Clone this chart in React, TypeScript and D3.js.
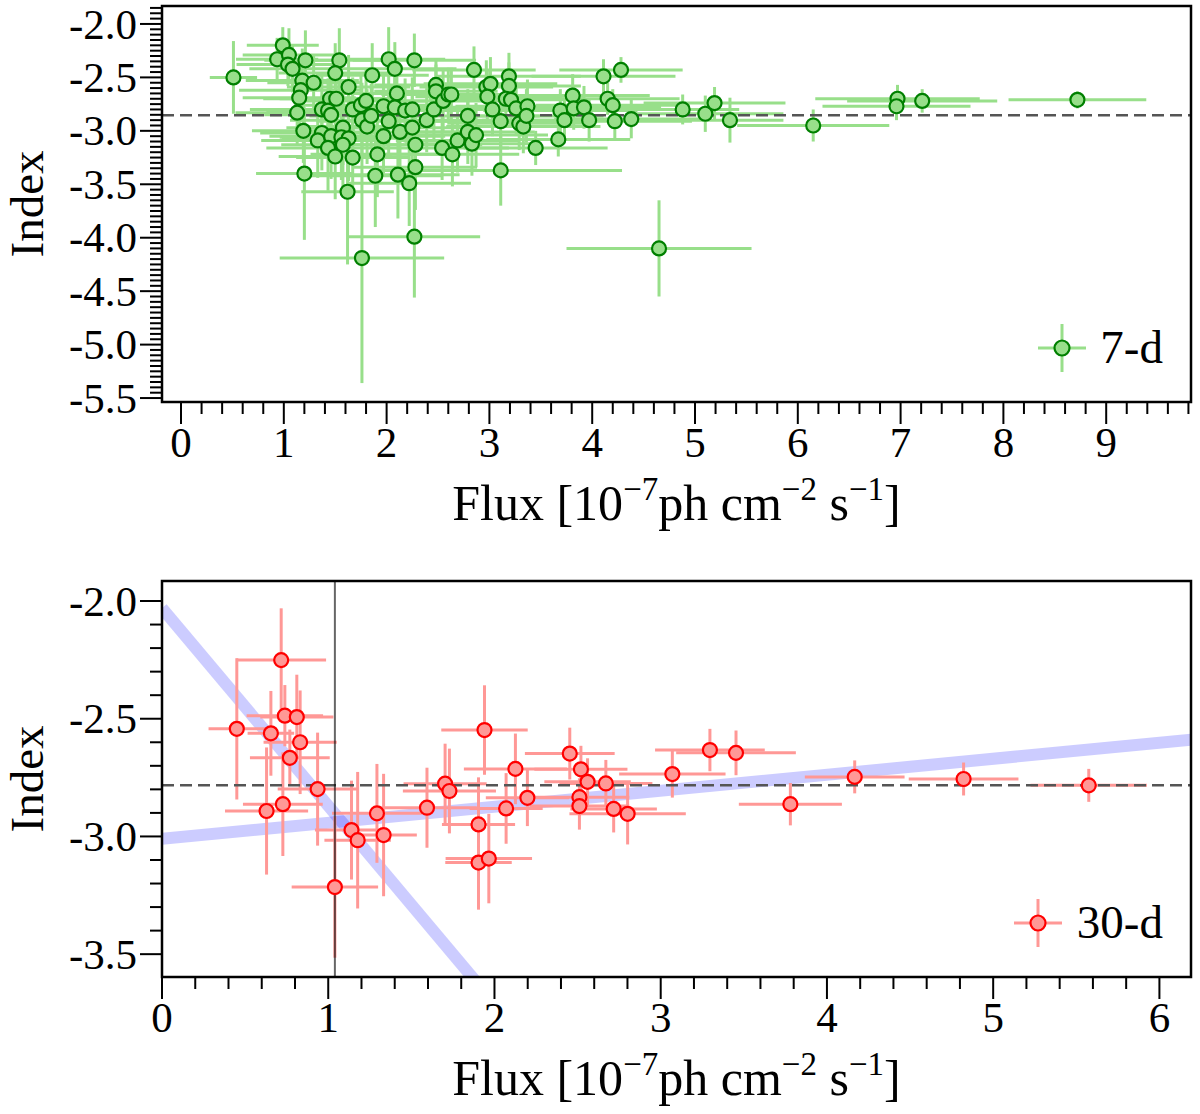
import React from "react";
import * as d3 from "d3";

// ---------- 7-day binned data ----------
const flux7 = [
  0.51, 0.99, 0.935, 1.05, 1.04, 1.085, 1.21, 1.18, 1.29, 1.165,
  1.15, 1.13, 1.19, 1.2, 1.54, 1.5, 1.63, 1.45, 1.51, 1.37,
  1.43, 1.46, 1.37, 1.33, 1.46, 1.575, 1.56, 1.63, 1.575, 1.43,
  1.5, 1.67, 1.62, 1.67, 1.75, 1.8, 1.76, 1.81, 1.85, 1.86,
  1.97, 2.02, 1.97, 1.91, 1.89, 2.02, 2.08, 2.1, 2.08, 2.18,
  2.25, 2.13, 2.25, 2.28, 2.28, 2.11, 2.22, 2.27, 2.39, 2.46,
  2.48, 2.48, 2.55, 2.6, 2.63, 2.54, 2.64, 2.69, 2.79, 2.79,
  2.83, 2.87, 2.85, 2.97, 3.01, 2.98, 3.03, 3.11, 3.11, 3.19,
  3.19, 3.16, 3.21, 3.26, 3.29, 3.33, 3.37, 3.36, 3.45, 3.67,
  3.69, 3.73, 3.81, 3.82, 3.92, 3.97, 4.11, 4.28, 4.15, 4.2,
  4.22, 4.38, 4.65, 4.88, 5.1, 5.19, 5.34, 6.15, 6.97, 6.96,
  7.21, 8.72, 1.76, 2.27,
];
const index7 = [
  -2.5, -2.2, -2.33, -2.29, -2.38, -2.42, -2.34, -2.53, -2.55, -2.62,
  -2.69, -2.83, -3.0, -3.4, -2.34, -2.46, -2.59, -2.7, -2.7, -2.8,
  -2.81, -2.85, -3.02, -3.09, -3.05, -2.97, -3.06, -3.07, -3.13, -3.16,
  -3.24, -3.25, -3.57, -2.8, -2.76, -2.72, -2.9, -2.96, -2.86, -2.48,
  -2.77, -2.91, -3.05, -3.22, -3.42, -2.33, -2.42, -2.65, -2.78, -2.81,
  -2.8, -3.01, -2.97, -3.13, -3.34, -3.41, -3.49, -2.34, -2.9, -2.8,
  -2.57, -2.63, -2.72, -2.66, -2.66, -3.16, -3.22, -3.09, -2.86, -3.01,
  -3.12, -3.04, -2.43, -2.59, -2.56, -2.68, -2.8, -2.91, -3.37, -2.49,
  -2.58, -2.7, -2.71, -2.79, -2.93, -2.96, -2.77, -2.86, -3.16, -3.08,
  -2.81, -2.9, -2.67, -2.79, -2.78, -2.9, -2.49, -2.43, -2.7, -2.76,
  -2.91, -2.89, -4.1, -2.8, -2.84, -2.74, -2.9, -2.95, -2.7, -2.77,
  -2.72, -2.71, -4.19, -3.99,
];
const fluxErr7 = [
  0.23, 0.35, 0.4, 0.45, 0.5, 0.42, 0.4, 0.55, 0.45, 0.6,
  0.55, 0.6, 0.5, 0.47, 0.5, 0.55, 0.6, 0.65, 0.55, 0.7,
  0.6, 0.65, 0.6, 0.55, 0.6, 0.55, 0.6, 0.65, 0.6, 0.6,
  0.55, 0.55, 0.45, 0.6, 0.65, 0.6, 0.7, 0.65, 0.6, 0.55,
  0.65, 0.7, 0.6, 0.65, 0.65, 0.55, 0.6, 0.6, 0.65, 0.7,
  0.65, 0.6, 0.65, 0.65, 0.6, 0.6, 0.6, 0.6, 0.7, 0.65,
  0.6, 0.6, 0.65, 0.65, 0.6, 0.65, 0.65, 0.6, 0.7, 0.65,
  0.65, 0.7, 0.6, 0.65, 0.65, 0.7, 0.7, 0.7, 1.18, 0.7,
  0.7, 0.75, 0.7, 0.75, 0.7, 0.75, 0.7, 0.75, 0.7, 0.7,
  0.75, 0.8, 0.75, 0.8, 0.75, 0.8, 0.7, 0.6, 0.7, 0.75,
  0.75, 0.75, 0.9, 0.55, 0.76, 0.69, 0.52, 0.74, 0.8, 0.72,
  0.73, 0.67, 0.8, 0.64,
];
const indexErr7 = [
  0.34, 0.17, 0.2, 0.25, 0.2, 0.22, 0.28, 0.3, 0.25, 0.3,
  0.25, 0.3, 0.3, 0.62, 0.3, 0.28, 0.3, 0.25, 0.3, 0.35,
  0.3, 0.3, 0.35, 0.35, 0.4, 0.35, 0.4, 0.4, 0.4, 0.4,
  0.4, 0.35, 0.68, 0.3, 0.3, 0.3, 0.35, 0.35, 0.3, 0.3,
  0.3, 0.35, 0.35, 0.4, 0.48, 0.3, 0.25, 0.3, 0.3, 0.3,
  0.3, 0.35, 0.35, 0.35, 0.4, 0.41, 0.4, 0.25, 0.3, 0.3,
  0.25, 0.25, 0.3, 0.25, 0.25, 0.3, 0.3, 0.3, 0.25, 0.3,
  0.3, 0.3, 0.22, 0.25, 0.25, 0.25, 0.25, 0.25, 0.33, 0.22,
  0.22, 0.25, 0.25, 0.25, 0.25, 0.25, 0.25, 0.25, 0.16, 0.16,
  0.2, 0.2, 0.2, 0.2, 0.2, 0.2, 0.16, 0.12, 0.15, 0.15,
  0.18, 0.18, 0.45, 0.14, 0.17, 0.15, 0.21, 0.15, 0.13, 0.13,
  0.11, 0.08, 1.17, 0.57,
];

// ---------- 30-day binned data ----------
const flux30 = [
  0.45, 0.717, 0.655, 0.739, 0.811, 0.831, 0.769, 0.936, 0.727, 0.629,
  1.04, 1.14, 1.177, 1.293, 1.333, 1.594, 1.703, 1.729, 1.904, 1.94,
  1.904, 1.966, 2.07, 2.126, 2.198, 2.453, 2.52, 2.56, 2.511, 2.511,
  2.67, 2.717, 2.801, 3.07, 3.296, 3.453, 3.78, 4.167, 4.822, 5.575,
];
const index30 = [
  -2.543, -2.251, -2.562, -2.487, -2.493, -2.6, -2.666, -2.799, -2.863, -2.892,
  -3.215, -2.973, -3.016, -2.902, -2.994, -2.878, -2.776, -2.807, -2.949, -2.548,
  -3.111, -3.094, -2.881, -2.713, -2.836, -2.648, -2.715, -2.768, -2.833, -2.871,
  -2.775, -2.883, -2.904, -2.735, -2.633, -2.645, -2.863, -2.747, -2.756, -2.783,
];
const fluxErr30 = [
  0.17, 0.27, 0.14, 0.23, 0.22, 0.22, 0.24, 0.24, 0.24, 0.25,
  0.26, 0.22, 0.2, 0.27, 0.2, 0.3, 0.25, 0.28, 0.22, 0.26,
  0.2, 0.26, 0.22, 0.31, 0.25, 0.27, 0.28, 0.26, 0.3, 0.3,
  0.28, 0.26, 0.35, 0.32, 0.33, 0.36, 0.31, 0.3, 0.33, 0.35,
];
const indexErr30 = [
  0.3, 0.22, 0.18, 0.13, 0.18, 0.22, 0.12, 0.24, 0.22, 0.27,
  0.3, 0.21, 0.29, 0.21, 0.26, 0.17, 0.17, 0.18, 0.2, 0.19,
  0.2, 0.19, 0.15, 0.15, 0.12, 0.11, 0.1, 0.1, 0.08, 0.1,
  0.1, 0.1, 0.13, 0.1, 0.09, 0.095, 0.09, 0.07, 0.07, 0.07,
];

// reference lines
const mean7 = -2.855;
const mean30 = -2.783;
const breakFlux30 = 1.04;
const fitIntercepts30 = [-2.03, -3.01];
const fitSlopes30 = [-0.84, 0.068];

// tick labels
const xTicks7 = [0, 1, 2, 3, 4, 5, 6, 7, 8, 9];
const yTicks7 = [-2.0, -2.5, -3.0, -3.5, -4.0, -4.5, -5.0, -5.5];
const xTicks30 = [0, 1, 2, 3, 4, 5, 6];
const yTicks30 = [-2.0, -2.5, -3.0, -3.5];

const FONT = "'Liberation Serif', 'Times New Roman', 'DejaVu Serif', serif";

type PanelProps = {
  id: string;
  top: number;
  bottom: number;
  left: number;
  right: number;
  xDomain: [number, number];
  yDomain: [number, number];
  xTicks: number[];
  yTicks: number[];
  xMinorStep: number;
  yMinorStep: number;
  flux: number[];
  index: number[];
  fluxErr: number[];
  indexErr: number[];
  barColor: string;
  fillColor: string;
  edgeColor: string;
  mean: number;
  label: string;
  legendMarkerX: number;
  vline?: number;
  fitIntercepts?: number[];
  fitSlopes?: number[];
};

function minorTicks(domain: [number, number], step: number, majors: number[]) {
  const lo = Math.ceil(domain[0] / step - 1e-6);
  const hi = Math.floor(domain[1] / step + 1e-6);
  return d3
    .range(lo, hi + 1)
    .map((i) => +(i * step).toFixed(4))
    .filter((v) => !majors.some((m) => Math.abs(m - v) < 1e-6));
}

function Panel(p: PanelProps) {
  const x = d3.scaleLinear().domain(p.xDomain).range([p.left, p.right]);
  const y = d3.scaleLinear().domain(p.yDomain).range([p.bottom, p.top]);
  const xMinor = minorTicks(p.xDomain, p.xMinorStep, p.xTicks);
  const yMinor = minorTicks(p.yDomain, p.yMinorStep, p.yTicks);
  const MAJ = 22;
  const MIN = 12;
  const r = 7;
  const legendY = p.bottom - 54;
  const fits = (p.fitIntercepts || []).map((a, k) => {
    const b = (p.fitSlopes || [])[k];
    const xs = [p.xDomain[0], p.xDomain[1]];
    return d3
      .line<number>()
      .x((d) => x(d))
      .y((d) => y(a + b * d))(xs);
  });
  const midX = (p.left + p.right) / 2;
  const midY = (p.top + p.bottom) / 2;

  return (
    <g>
      <defs>
        <clipPath id={p.id}>
          <rect x={p.left} y={p.top} width={p.right - p.left} height={p.bottom - p.top} />
        </clipPath>
      </defs>
      <g clipPath={`url(#${p.id})`}>
        {fits.map((d, k) => (
          <path key={k} d={d || ""} stroke="rgb(0,0,255)" strokeOpacity={0.2} strokeWidth={12} fill="none" />
        ))}
        {p.flux.map((f, i) => (
          <g key={i} stroke={p.barColor} strokeWidth={3}>
            <line x1={x(f - p.fluxErr[i])} x2={x(f + p.fluxErr[i])} y1={y(p.index[i])} y2={y(p.index[i])} />
            <line x1={x(f)} x2={x(f)} y1={y(p.index[i] - p.indexErr[i])} y2={y(p.index[i] + p.indexErr[i])} />
          </g>
        ))}
        <line
          x1={p.left}
          x2={p.right}
          y1={y(p.mean)}
          y2={y(p.mean)}
          stroke="#555"
          strokeWidth={2.5}
          strokeDasharray="12,6"
        />
        {p.vline !== undefined && (
          <line x1={x(p.vline)} x2={x(p.vline)} y1={p.top} y2={p.bottom} stroke="#000" strokeOpacity={0.6} strokeWidth={2} />
        )}
        {p.flux.map((f, i) => (
          <circle key={i} cx={x(f)} cy={y(p.index[i])} r={r} fill={p.fillColor} stroke={p.edgeColor} strokeWidth={2.2} />
        ))}
      </g>
      <rect
        x={p.left}
        y={p.top}
        width={p.right - p.left}
        height={p.bottom - p.top}
        fill="none"
        stroke="#000"
        strokeWidth={2.5}
      />
      {p.xTicks.map((t) => (
        <g key={"xt" + t}>
          <line x1={x(t)} x2={x(t)} y1={p.bottom} y2={p.bottom + MAJ} stroke="#000" strokeWidth={2} />
          <text x={x(t)} y={p.bottom + 55} textAnchor="middle" fontSize={43} fontFamily={FONT}>
            {String(t)}
          </text>
        </g>
      ))}
      {xMinor.map((t) => (
        <line key={"xm" + t} x1={x(t)} x2={x(t)} y1={p.bottom} y2={p.bottom + MIN} stroke="#000" strokeWidth={2} />
      ))}
      {p.yTicks.map((t) => (
        <g key={"yt" + t}>
          <line x1={p.left - MAJ} x2={p.left} y1={y(t)} y2={y(t)} stroke="#000" strokeWidth={2} />
          <text x={p.left - MAJ - 3} y={y(t)} dy="0.34em" textAnchor="end" fontSize={43} fontFamily={FONT}>
            {t.toFixed(1)}
          </text>
        </g>
      ))}
      {yMinor.map((t) => (
        <line key={"ym" + t} x1={p.left - MIN} x2={p.left} y1={y(t)} y2={y(t)} stroke="#000" strokeWidth={2} />
      ))}
      <text
        transform={`translate(43,${midY}) rotate(-90)`}
        textAnchor="middle"
        fontSize={47}
        fontFamily={FONT}
      >
        Index
      </text>
      <text x={midX} y={p.bottom + 118} textAnchor="middle" fontSize={50} fontFamily={FONT}>
        Flux [10
        <tspan dy={-20} fontSize={33}>
          {"\u22127"}
        </tspan>
        <tspan dy={20}>ph cm</tspan>
        <tspan dy={-20} fontSize={33}>
          {"\u22122"}
        </tspan>
        <tspan dy={20}>{" s"}</tspan>
        <tspan dy={-20} fontSize={33}>
          {"\u22121"}
        </tspan>
        <tspan dy={20}>]</tspan>
      </text>
      <g>
        <line x1={p.legendMarkerX - 24} x2={p.legendMarkerX + 24} y1={legendY} y2={legendY} stroke={p.barColor} strokeWidth={3} />
        <line x1={p.legendMarkerX} x2={p.legendMarkerX} y1={legendY - 24} y2={legendY + 24} stroke={p.barColor} strokeWidth={3} />
        <circle cx={p.legendMarkerX} cy={legendY} r={7.5} fill={p.fillColor} stroke={p.edgeColor} strokeWidth={2.2} />
        <text x={p.right - 28} y={legendY + 15} textAnchor="end" fontSize={47} fontFamily={FONT}>
          {p.label}
        </text>
      </g>
    </g>
  );
}

export default function App() {
  return (
    <svg
      width={1200}
      height={1114}
      viewBox="0 0 1200 1114"
      style={{ position: "absolute", left: 0, top: 0, background: "#fff" }}
    >
      <rect x={0} y={0} width={1200} height={1114} fill="#fff" />
      <Panel
        id="clip7"
        top={6}
        bottom={402}
        left={162}
        right={1191}
        xDomain={[-0.185, 9.825]}
        yDomain={[-5.537, -1.832]}
        xTicks={xTicks7}
        yTicks={yTicks7}
        xMinorStep={0.2}
        yMinorStep={0.05}
        flux={flux7}
        index={index7}
        fluxErr={fluxErr7}
        indexErr={indexErr7}
        barColor="#98df8a"
        fillColor="#98df8a"
        edgeColor="#008000"
        mean={mean7}
        label="7-d"
        legendMarkerX={1062}
      />
      <Panel
        id="clip30"
        top={581}
        bottom={977}
        left={162}
        right={1191}
        xDomain={[0, 6.19]}
        yDomain={[-3.597, -1.915]}
        xTicks={xTicks30}
        yTicks={yTicks30}
        xMinorStep={0.2}
        yMinorStep={0.1}
        flux={flux30}
        index={index30}
        fluxErr={fluxErr30}
        indexErr={indexErr30}
        barColor="#ff9896"
        fillColor="#ff9896"
        edgeColor="#ff0000"
        mean={mean30}
        label="30-d"
        legendMarkerX={1038}
        vline={breakFlux30}
        fitIntercepts={fitIntercepts30}
        fitSlopes={fitSlopes30}
      />
    </svg>
  );
}
